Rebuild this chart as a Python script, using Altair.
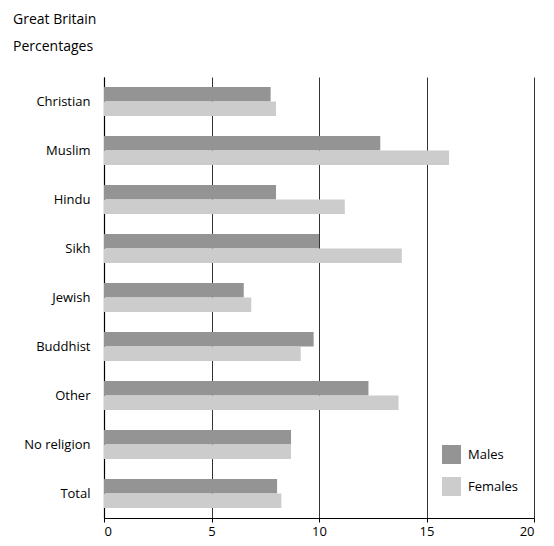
import altair as alt
import pandas as pd

categories = ["Christian", "Muslim", "Hindu", "Sikh", "Jewish", "Buddhist", "Other", "No religion", "Total"]
males = [7.75, 12.85, 8.0, 10.0, 6.5, 9.75, 12.3, 8.7, 8.05]
females = [8.0, 16.05, 11.2, 13.85, 6.85, 9.15, 13.7, 8.7, 8.25]
series = ["Males", "Females"]
colors = ["#949494", "#cccccc"]
x_ticks = [0, 5, 10, 15, 20]

rows = []
for c, m, f in zip(categories, males, females):
    rows.append({"religion": c, "sex": "Males", "value": m})
    rows.append({"religion": c, "sex": "Females", "value": f})
df = pd.DataFrame(rows)

FONT = "Open Sans"

chart = alt.Chart(df).mark_bar().encode(
    y=alt.Y("religion:N", sort=categories,
            scale=alt.Scale(paddingInner=0.41, paddingOuter=0.205),
            axis=alt.Axis(title=None, ticks=False, labelPadding=14, grid=False,
                          domainColor="#000", domainWidth=1.2)),
    yOffset=alt.YOffset("sex:N", scale=alt.Scale(domain=series)),
    x=alt.X("value:Q", scale=alt.Scale(domain=[0, 20], nice=False),
            axis=alt.Axis(title=None, values=x_ticks, tickSize=4, labelPadding=3,
                          grid=True, gridColor="#333", gridWidth=1,
                          domainColor="#000", tickColor="#000")),
    color=alt.Color("sex:N", scale=alt.Scale(domain=series, range=colors),
                    legend=alt.Legend(title=None, orient="none", legendX=338, legendY=368,
                                      symbolType="square", symbolSize=361, symbolStrokeWidth=0,
                                      rowPadding=13, labelFontSize=13, labelFont=FONT,
                                      labelColor="#000", labelOffset=7, padding=0)),
).properties(
    width=430,
    height=441,
    title=alt.TitleParams(text=["Great Britain", "Percentages"], anchor="start",
                          frame="group", dx=-91, offset=23, fontSize=14,
                          font=FONT, fontWeight="normal", lineHeight=27, color="#000"),
    autosize=alt.AutoSizeParams(type="none"),
    padding={"left": 96, "top": 69, "right": 12, "bottom": 20},
).configure_view(stroke=None).configure_axis(
    labelFont=FONT, labelFontSize=13, labelColor="#000"
)

chart.save("out.html", embed_options={"renderer": "svg", "actions": False})
